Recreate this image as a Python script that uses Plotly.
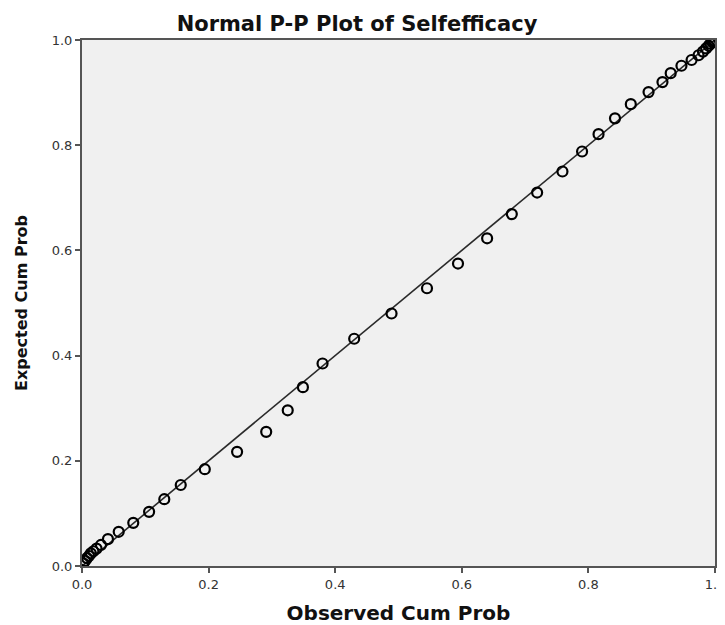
import plotly.graph_objects as go

observed = [0.002, 0.005, 0.008, 0.011, 0.014, 0.018, 0.023, 0.030, 0.041, 0.058,
            0.081, 0.106, 0.130, 0.156, 0.194, 0.245, 0.291, 0.325, 0.349, 0.380,
            0.430, 0.489, 0.545, 0.594, 0.640, 0.679, 0.719, 0.759, 0.790, 0.816,
            0.842, 0.867, 0.895, 0.917, 0.930, 0.947, 0.963, 0.974, 0.981, 0.986,
            0.990, 0.993, 0.996, 0.998, 0.999]
expected = [0.005, 0.010, 0.015, 0.019, 0.024, 0.028, 0.033, 0.040, 0.051, 0.065,
            0.082, 0.103, 0.127, 0.154, 0.184, 0.217, 0.255, 0.296, 0.340, 0.385,
            0.432, 0.480, 0.528, 0.575, 0.623, 0.669, 0.710, 0.750, 0.788, 0.821,
            0.851, 0.878, 0.901, 0.920, 0.937, 0.951, 0.962, 0.971, 0.978, 0.984,
            0.989, 0.993, 0.996, 0.998, 0.999]
ref_line = [0.0, 1.0]
tick_vals = [0.0, 0.2, 0.4, 0.6, 0.8, 1.0]
tick_text = ["0.0", "0.2", "0.4", "0.6", "0.8", "1.0"]

fig = go.Figure()
fig.add_trace(go.Scatter(x=ref_line, y=ref_line, mode="lines",
                         line=dict(color="#2a2a2a", width=1.6),
                         hoverinfo="skip", showlegend=False))
fig.add_trace(go.Scatter(x=observed, y=expected, mode="markers",
                         marker=dict(symbol="circle-open", size=10,
                                     color="black", line=dict(width=2.2, color="black")),
                         showlegend=False))

W, H = 717, 617  # page body has an 8px margin
font = "DejaVu Sans, Arial, sans-serif"
fig.update_layout(
    width=W, height=H,
    margin=dict(l=74, r=10, t=32, b=59),
    paper_bgcolor="white", plot_bgcolor="#f0f0f0",
    title=dict(text="<b>Normal P-P Plot of Selfefficacy</b>", x=349 / W, xanchor="center",
               xref="container", yref="container", y=1 - 16 / H, yanchor="middle",
               font=dict(family=font, size=21, color="#111111")),
    font=dict(family=font, color="#222222"),
)
axis_common = dict(range=[0, 1], tickvals=tick_vals, ticktext=tick_text,
                   ticks="outside", ticklen=5, tickwidth=2, tickcolor="#555555",
                   showgrid=False, zeroline=False, showline=True, linecolor="#555555",
                   linewidth=2, mirror=True, automargin=False, ticklabeloverflow="allow",
                   tickfont=dict(family=font, size=13, color="#333333"))
fig.update_xaxes(**axis_common,
                 title=dict(text="<b>Observed Cum Prob</b>", standoff=17,
                            font=dict(family=font, size=20, color="#111111")))
fig.update_yaxes(**axis_common,
                 title=dict(text="<b>Expected Cum Prob</b>", standoff=20,
                            font=dict(family=font, size=16, color="#111111")))

fig.write_html("out.html")
